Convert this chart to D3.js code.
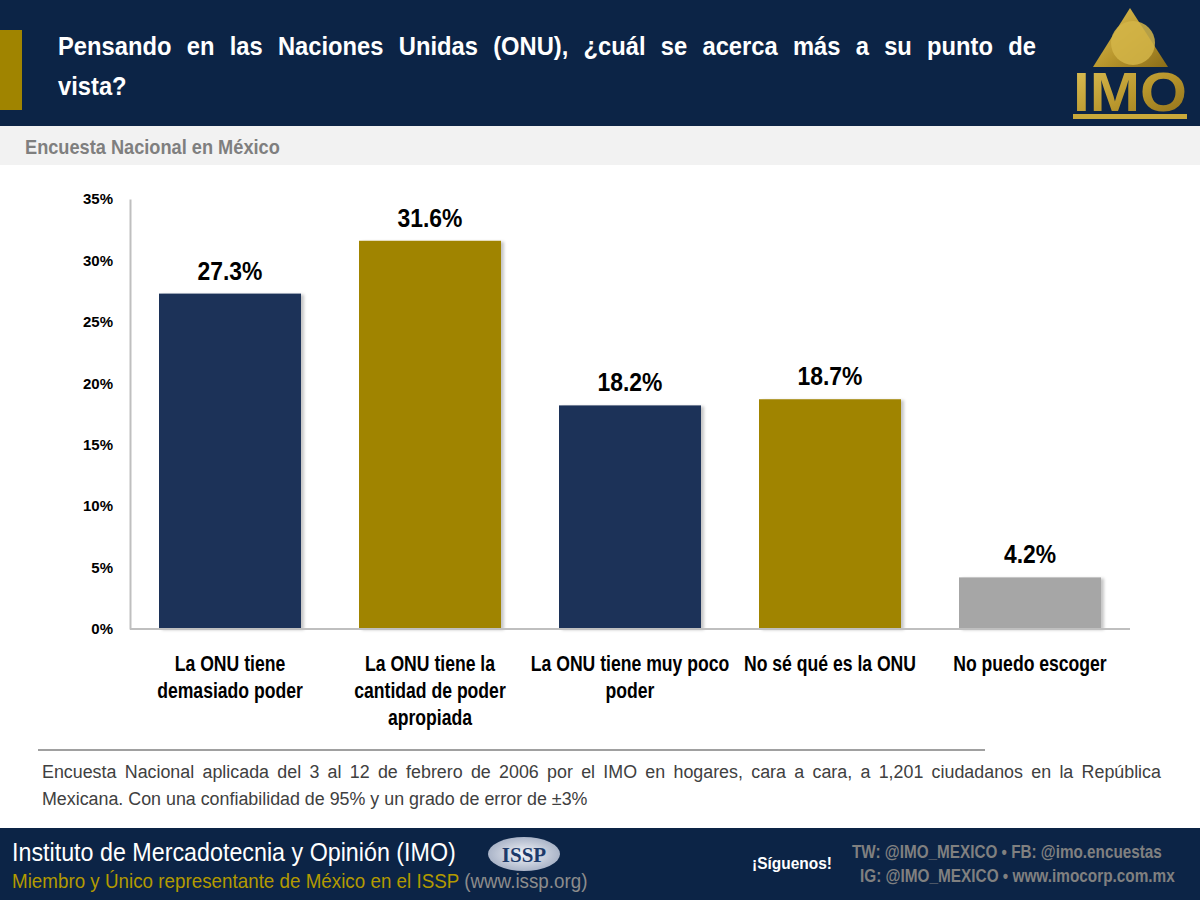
<!DOCTYPE html>
<html>
<head>
<meta charset="utf-8">
<script src="https://cdn.jsdelivr.net/npm/d3@7"></script>
<style>
  body { margin: 0; background: #fff; }
  svg { display: block; font-family: "Liberation Sans", Arial, sans-serif; }
</style>
</head>
<body>
<div id="svg-container"></div>
<script>
// chart data
const categories = ['demasiado', 'apropiada', 'poco', 'nose', 'noescoger']
const categoryLabels = [
    ['La ONU tiene', 'demasiado poder'],
    ['La ONU tiene la', 'cantidad de poder', 'apropiada'],
    ['La ONU tiene muy poco', 'poder'],
    ['No sé qué es la ONU'],
    ['No puedo escoger']
]
const values = [27.3, 31.6, 18.2, 18.7, 4.2]
const yTicks = [0, 5, 10, 15, 20, 25, 30, 35]

const titleLines = ['Pensando en las Naciones Unidas (ONU), ¿cuál se acerca más a su punto de', 'vista?']
const subtitle = 'Encuesta Nacional en México'
const noteLines = [
    'Encuesta Nacional aplicada del 3 al 12 de febrero de 2006 por el IMO en hogares, cara a cara, a 1,201 ciudadanos en la República',
    'Mexicana. Con una confiabilidad de 95% y un grado de error de ±3%'
]

const width = 1200,
      height = 900

const navy = '#0c2446'
const barNavy = '#1b3259'
const gold = '#a08400'

let svg = d3.select('#svg-container')
    .append('svg')
    .attr('width', width)
    .attr('height', height)

let defs = svg.append('defs')
let shadow = defs.append('filter').attr('id', 'shadow')
    .attr('x', '-10%').attr('y', '-10%').attr('width', '130%').attr('height', '120%')
shadow.append('feDropShadow')
    .attr('dx', 3).attr('dy', 1).attr('stdDeviation', 1.5)
    .attr('flood-color', '#000').attr('flood-opacity', 0.22)

let goldGrad = defs.append('linearGradient').attr('id', 'goldGrad')
    .attr('x1', 0).attr('y1', 0).attr('x2', 1).attr('y2', 1)
goldGrad.append('stop').attr('offset', '0%').attr('stop-color', '#e0c45a')
goldGrad.append('stop').attr('offset', '55%').attr('stop-color', '#b8962c')
goldGrad.append('stop').attr('offset', '100%').attr('stop-color', '#8a6c18')

let isspGrad = defs.append('radialGradient').attr('id', 'isspGrad')
isspGrad.append('stop').attr('offset', '0%').attr('stop-color', '#f4f6fa')
isspGrad.append('stop').attr('offset', '100%').attr('stop-color', '#aab4c8')

// squeeze a text horizontally so it looks like a condensed face
const squeeze = (t, x, y, sx) => t.attr('x', 0).attr('y', 0)
    .attr('transform', `translate(${x},${y}) scale(${sx},1)`)

// fit a text into a given width (measured, then scaled)
const fit = (t, x, y, w) => {
    let natural = t.node().getComputedTextLength()
    return squeeze(t, x, y, w / natural)
}

// spreads words between x0 and x1 like justified text
const justify = (g, line, x0, x1, y, sx, attrs) => {
    let words = line.split(' ')
    let nodes = words.map(w => {
        let t = g.append('text').text(w)
        Object.entries(attrs).forEach(([k, v]) => t.attr(k, v))
        return t
    })
    let lens = nodes.map(n => n.node().getComputedTextLength() * sx)
    let gap = (x1 - x0 - d3.sum(lens)) / (words.length - 1)
    let x = x0
    nodes.forEach((n, i) => {
        squeeze(n, x, y, sx)
        x += lens[i] + gap
    })
}

// header
svg.append('rect').attr('x', 0).attr('y', 0).attr('width', width).attr('height', 126).attr('fill', navy)
svg.append('rect').attr('x', 0).attr('y', 30).attr('width', 22).attr('height', 80).attr('fill', gold)

let title = svg.append('g')
justify(title, titleLines[0], 58, 1036, 55, 0.95, {
    'fill': '#fff', 'font-size': 25, 'font-weight': 'bold'
})
squeeze(title.append('text').text(titleLines[1])
    .attr('fill', '#fff').attr('font-size', 25).attr('font-weight', 'bold'), 58, 95, 0.95)

// IMO logo
let logo = svg.append('g')
logo.append('path').attr('d', 'M1130,8 L1168,67 L1093,67 Z').attr('fill', 'url(#goldGrad)')
logo.append('circle').attr('cx', 1133).attr('cy', 43).attr('r', 22).attr('fill', '#d4b548').attr('opacity', 0.85)
fit(logo.append('text').text('IMO')
    .attr('font-weight', 'bold').attr('font-size', 56)
    .attr('fill', 'url(#goldGrad)'), 1073, 111, 114)
logo.append('rect').attr('x', 1073).attr('y', 114).attr('width', 114).attr('height', 5).attr('fill', '#c9a93a')

// subtitle band
svg.append('rect').attr('x', 0).attr('y', 126).attr('width', width).attr('height', 39).attr('fill', '#f2f2f2')
fit(svg.append('text').text(subtitle)
    .attr('fill', '#7f7f7f').attr('font-size', 20).attr('font-weight', 'bold'), 25, 154, 255)

// chart
let x = d3.scaleBand()
    .domain(categories)
    .range([130, 1130])
    .paddingInner(0.29)
    .paddingOuter(0.145)

let y = d3.scaleLinear()
    .domain([0, 35])
    .range([629, 199])

let color = d3.scaleOrdinal()
    .domain(categories)
    .range([barNavy, gold, barNavy, gold, '#a6a6a6'])

let chart = svg.append('g')

let yAxis = d3.axisLeft(y)
    .tickValues(yTicks)
    .tickFormat(d => d + '%')
    .tickSize(0)
    .tickPadding(17)

chart.append('g')
    .attr('transform', 'translate(130,0)')
    .call(yAxis)
    .call(g => g.select('.domain').attr('stroke', '#bfbfbf').attr('stroke-width', 2))
    .call(g => g.selectAll('text')
        .attr('font-size', 15)
        .attr('font-weight', 'bold')
        .attr('font-family', '"Liberation Sans", Arial, sans-serif')
        .attr('fill', '#000'))

chart.selectAll('.bar')
    .data(values)
    .enter()
    .append('rect')
    .attr('class', 'bar')
    .attr('x', (d, i) => x(categories[i]))
    .attr('width', x.bandwidth())
    .attr('y', d => y(d))
    .attr('height', d => y(0) - y(d))
    .attr('fill', (d, i) => color(categories[i]))
    .attr('filter', 'url(#shadow)')

chart.append('line')
    .attr('x1', 130).attr('x2', 1130)
    .attr('y1', y(0)).attr('y2', y(0))
    .attr('stroke', '#bfbfbf').attr('stroke-width', 2)

chart.selectAll('.value')
    .data(values)
    .enter()
    .append('text')
    .attr('class', 'value')
    .text(d => d.toFixed(1) + '%')
    .attr('transform', (d, i) => `translate(${x(categories[i]) + x.bandwidth() / 2},${y(d) - 14}) scale(0.88,1)`)
    .attr('text-anchor', 'middle')
    .attr('font-size', 26)
    .attr('font-weight', 'bold')
    .attr('fill', '#000')

let catLabels = chart.selectAll('.cat')
    .data(categoryLabels)
    .enter()
    .append('text')
    .attr('class', 'cat')
    .attr('text-anchor', 'middle')
    .attr('font-size', 22)
    .attr('font-weight', 'bold')
    .attr('fill', '#000')
    .attr('transform', (d, i) => `translate(${x(categories[i]) + x.bandwidth() / 2},671) scale(0.8,1)`)

catLabels.selectAll('tspan')
    .data(d => d)
    .enter()
    .append('tspan')
    .attr('x', 0)
    .attr('y', (d, i) => i * 27)
    .text(d => d)

// footnote
svg.append('line')
    .attr('x1', 38).attr('x2', 985).attr('y1', 750).attr('y2', 750)
    .attr('stroke', '#808080').attr('stroke-width', 1.5)

let note = svg.append('g')
justify(note, noteLines[0], 42, 1161, 778, 0.94, {
    'fill': '#404040', 'font-size': 19
})
squeeze(note.append('text').text(noteLines[1])
    .attr('fill', '#404040').attr('font-size', 19), 42, 805, 0.94)

// footer
svg.append('rect').attr('x', 0).attr('y', 828).attr('width', width).attr('height', 72).attr('fill', navy)

fit(svg.append('text').text('Instituto de Mercadotecnia  y Opinión (IMO)')
    .attr('fill', '#fff').attr('font-size', 26), 12, 861, 444)

let member = svg.append('text').attr('font-size', 21)
member.append('tspan').text('Miembro y Único representante  de México  en el ISSP ').attr('fill', '#b39a00')
member.append('tspan').text('(www.issp.org)').attr('fill', '#8c8c8c')
fit(member, 12, 888, 576)

// ISSP badge
svg.append('ellipse').attr('cx', 524).attr('cy', 854).attr('rx', 36).attr('ry', 17)
    .attr('fill', 'url(#isspGrad)')
svg.append('text').text('ISSP')
    .attr('x', 524).attr('y', 862)
    .attr('text-anchor', 'middle')
    .attr('font-family', '"Liberation Serif", "DejaVu Serif", serif')
    .attr('font-weight', 'bold').attr('font-size', 21)
    .attr('fill', '#1d3a6a')

fit(svg.append('text').text('¡Síguenos!')
    .attr('fill', '#fff').attr('font-size', 17).attr('font-weight', 'bold'), 752, 869, 80)

fit(svg.append('text').text('TW: @IMO_MEXICO  •  FB: @imo.encuestas')
    .attr('fill', '#808080').attr('font-size', 18).attr('font-weight', 'bold'), 852, 858, 310)

fit(svg.append('text').text('IG: @IMO_MEXICO  •  www.imocorp.com.mx')
    .attr('fill', '#808080').attr('font-size', 18).attr('font-weight', 'bold'), 860, 882, 315)
</script>
</body>
</html>
